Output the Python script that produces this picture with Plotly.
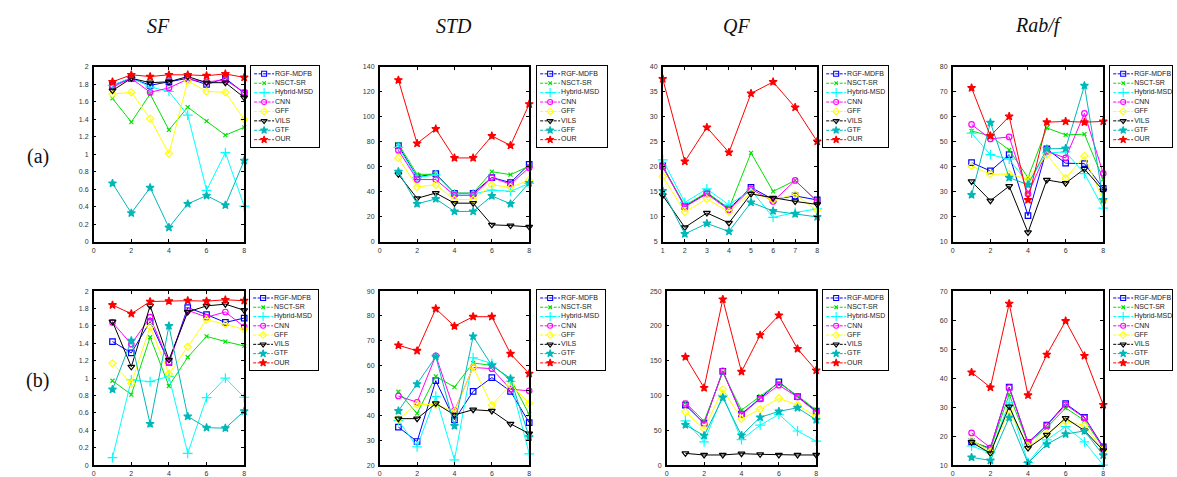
import plotly.graph_objects as go

# ---------------- data ----------------
X = [1, 2, 3, 4, 5, 6, 7, 8]
LABELS = ["RGF-MDFB", "NSCT-SR", "Hybrid-MSD", "CNN", "GFF", "VILS", "GTF", "OUR"]
LABELS_STD_A = ["RGF-MDFB", "NSCT-SR", "Hybrid-MSD", "CNN", "GFF", "VILS", "GFF", "OUR"]
TITLES = ["SF", "STD", "QF", "Rab/f"]
ROW_LABELS = ["(a)", "(b)"]

# rows follow LABELS order
SF_A = [
    [1.79, 1.87, 1.79, 1.83, 1.87, 1.80, 1.87, 1.70],
    [1.64, 1.37, 1.69, 1.28, 1.54, 1.38, 1.22, 1.31],
    [1.79, 1.88, 1.77, 1.72, 1.45, 0.59, 1.02, 0.41],
    [1.77, 1.87, 1.71, 1.76, 1.86, 1.83, 1.85, 1.71],
    [1.69, 1.71, 1.41, 1.01, 1.84, 1.72, 1.71, 1.40],
    [1.73, 1.87, 1.82, 1.83, 1.89, 1.82, 1.82, 1.65],
    [0.67, 0.33, 0.62, 0.165, 0.435, 0.53, 0.42, 0.93],
    [1.83, 1.91, 1.89, 1.91, 1.91, 1.90, 1.92, 1.88],
]
STD_A = [
    [77.0, 52.0, 54.6, 38.9, 38.9, 51.5, 47.5, 62.0],
    [78.3, 54.1, 54.1, 39.1, 39.1, 56.2, 53.8, 60.7],
    [75.6, 51.5, 53.6, 38.4, 38.4, 41.5, 40.5, 46.8],
    [73.3, 49.9, 49.9, 37.3, 37.3, 51.5, 46.2, 59.4],
    [67.2, 44.1, 45.7, 33.9, 33.9, 45.7, 43.6, 49.4],
    [54.1, 34.9, 39.1, 31.0, 31.0, 13.7, 13.1, 12.1],
    [56.2, 30.5, 34.4, 24.4, 24.4, 36.8, 30.5, 47.3],
    [129.5, 78.8, 90.4, 67.2, 67.2, 84.8, 77.2, 110.3],
]
QF_A = [
    [20.2, 12.1, 14.8, 11.6, 15.9, 13.5, 14.2, 13.4],
    [20.0, 12.3, 14.9, 11.7, 22.8, 15.1, 17.3, 13.1],
    [21.4, 12.9, 15.6, 12.4, 15.4, 9.9, 10.9, 11.6],
    [20.0, 12.0, 14.6, 11.4, 15.6, 13.1, 17.3, 13.1],
    [18.1, 11.0, 13.6, 11.0, 14.9, 13.4, 14.5, 11.3],
    [14.3, 7.9, 10.8, 8.8, 14.6, 13.8, 13.1, 12.5],
    [15.2, 6.6, 8.7, 7.1, 12.9, 11.2, 10.6, 10.0],
    [37.6, 21.1, 27.9, 22.9, 34.7, 37.0, 31.9, 25.1],
]
RAB_A = [
    [41.7, 38.4, 44.9, 20.5, 47.2, 41.5, 41.3, 31.4],
    [54.4, 52.4, 46.8, 35.7, 55.6, 52.8, 53.1, 35.0],
    [53.5, 44.9, 43.1, 33.4, 45.6, 46.0, 37.3, 23.5],
    [57.0, 51.2, 52.0, 29.2, 46.2, 43.6, 61.4, 37.4],
    [40.3, 37.1, 37.1, 35.1, 44.9, 35.5, 44.3, 26.5],
    [34.2, 26.5, 32.3, 13.8, 34.8, 33.5, 39.2, 30.5],
    [28.8, 57.7, 35.7, 32.9, 47.2, 47.4, 72.5, 26.8],
    [71.6, 52.4, 60.2, 26.8, 57.9, 58.2, 57.9, 58.2],
]
SF_B = [
    [1.42, 1.29, 1.65, 1.18, 1.81, 1.73, 1.64, 1.69],
    [0.97, 0.81, 1.47, 0.91, 1.24, 1.48, 1.42, 1.37],
    [0.087, 0.98, 0.96, 1.02, 0.136, 0.775, 1.00, 0.78],
    [1.64, 1.39, 1.70, 1.18, 1.78, 1.70, 1.76, 1.59],
    [1.17, 0.94, 1.59, 1.05, 1.36, 1.67, 1.62, 1.56],
    [1.65, 1.13, 1.83, 1.21, 1.76, 1.83, 1.85, 1.78],
    [0.87, 1.43, 0.475, 1.60, 0.56, 0.43, 0.425, 0.62],
    [1.84, 1.74, 1.88, 1.885, 1.89, 1.885, 1.90, 1.89],
]
STD_B = [
    [35.3, 29.5, 54.0, 38.2, 49.7, 55.2, 49.7, 37.1],
    [49.5, 40.8, 55.7, 51.4, 61.1, 60.1, 54.7, 40.4],
    [37.9, 27.4, 47.6, 22.1, 63.2, 60.9, 53.7, 24.5],
    [47.8, 45.3, 64.0, 41.9, 59.3, 58.8, 50.5, 49.9],
    [38.6, 44.5, 44.3, 41.6, 59.4, 44.1, 52.4, 44.9],
    [38.7, 38.7, 44.8, 40.2, 42.3, 41.8, 36.6, 32.7],
    [41.8, 52.6, 63.6, 35.8, 71.8, 60.1, 54.8, 31.3],
    [68.2, 66.0, 82.9, 75.9, 79.7, 79.7, 64.8, 56.8],
]
QF_B = [
    [86.2, 60.3, 134.7, 73.4, 96.0, 119.6, 98.4, 77.7],
    [89.9, 63.1, 133.2, 79.1, 98.9, 118.2, 99.8, 79.1],
    [63.6, 33.4, 100.3, 36.7, 57.4, 73.0, 49.0, 34.4],
    [88.5, 59.3, 135.6, 72.5, 95.1, 114.9, 97.9, 76.3],
    [76.3, 51.8, 108.8, 66.4, 80.5, 96.0, 86.2, 69.7],
    [16.9, 14.6, 14.6, 16.5, 15.5, 14.6, 14.6, 14.6],
    [57.9, 42.4, 97.0, 42.8, 68.7, 77.2, 82.4, 65.0],
    [155.4, 111.1, 238.2, 134.2, 186.9, 215.2, 167.1, 136.1],
]
RAB_B = [
    [18.0, 15.8, 36.9, 17.8, 23.8, 31.2, 26.5, 16.3],
    [18.4, 15.4, 34.4, 17.5, 22.9, 29.7, 25.4, 16.0],
    [16.6, 14.3, 31.5, 10.9, 18.7, 23.3, 18.0, 10.0],
    [21.1, 16.0, 36.7, 17.7, 23.6, 30.8, 26.3, 16.0],
    [18.6, 14.6, 28.5, 16.6, 20.8, 25.1, 23.7, 15.2],
    [17.9, 14.1, 30.2, 15.9, 20.4, 26.2, 21.9, 15.1],
    [12.7, 11.6, 26.4, 10.7, 17.2, 20.7, 21.8, 13.4],
    [42.0, 36.8, 65.7, 34.1, 48.1, 59.7, 47.7, 30.8],
]

# ---------------- styles ----------------
COLORS = ["#0000FF", "#00E000", "#00FFFF", "#FF00FF", "#FFFF00", "#000000", "#00B8B8", "#FF0000"]
SYMBOLS = ["square-open", "x-thin-open", "cross-thin-open", "circle-open",
           "diamond-open", "triangle-down-open", "star", "star"]
SIZES = [5.5, 4, 7, 5.5, 5.5, 6, 6, 6]

W, H = 1177, 477
TICKFONT = dict(family="Liberation Sans Narrow, Liberation Sans, Arial", size=7, color="#333333")
LEGFONT = dict(family="Liberation Sans Narrow, Liberation Sans, Arial", size=7, color="#222222")

ROW_Y = [(64, 242), (292, 469)]
panels = [
    dict(data=SF_A, labels=LABELS, xd=(92, 243), row=0, yr=(0, 2), ydt=0.2, xr=(0, 8), xdt=2, leg=(250, 63, 68, 82)),
    dict(data=STD_A, labels=LABELS_STD_A, xd=(379, 529), row=0, yr=(0, 140), ydt=20, xr=(0, 8), xdt=2, leg=(537, 63, 70, 82)),
    dict(data=QF_A, labels=LABELS, xd=(663, 818), row=0, yr=(5, 40), ydt=5, xr=(1, 8), xdt=1, leg=(824, 63, 65, 82)),
    dict(data=RAB_A, labels=LABELS, xd=(954, 1105), row=0, yr=(10, 80), ydt=10, xr=(0, 8), xdt=2, leg=(1112, 63, 62, 82)),
    dict(data=SF_B, labels=LABELS, xd=(92, 243), row=1, yr=(0, 2), ydt=0.2, xr=(0, 8), xdt=2, leg=(249, 291, 68, 81)),
    dict(data=STD_B, labels=LABELS, xd=(379, 529), row=1, yr=(20, 90), ydt=10, xr=(0, 8), xdt=2, leg=(537, 291, 68, 81)),
    dict(data=QF_B, labels=LABELS, xd=(667, 817), row=1, yr=(0, 250), ydt=50, xr=(0, 8), xdt=2, leg=(824, 291, 65, 81)),
    dict(data=RAB_B, labels=LABELS, xd=(954, 1105), row=1, yr=(10, 70), ydt=10, xr=(0, 8), xdt=2, leg=(1112, 291, 62, 81)),
]

fig = go.Figure()
layout = dict(width=W, height=H, margin=dict(l=0, r=0, t=0, b=0),
              paper_bgcolor="white", plot_bgcolor="white", showlegend=False)


def frange(a, b, s):
    out, v = [], a
    while v <= b + 1e-9:
        out.append(round(v, 6))
        v += s
    return out


n = len(panels)
for k, p in enumerate(panels, start=1):
    xa, ya = f"x{k}", f"y{k}"
    y0, y1 = ROW_Y[p["row"]]
    layout[f"xaxis{k}"] = dict(
        domain=[p["xd"][0] / W, p["xd"][1] / W], range=list(p["xr"]), anchor=ya,
        tickvals=frange(p["xr"][0], p["xr"][1], p["xdt"]), ticks="inside", ticklen=3,
        tickcolor="black", showline=True, linecolor="black", linewidth=1.5, mirror="ticks",
        showgrid=False, zeroline=False, tickfont=TICKFONT, ticklabelstandoff=1)
    layout[f"yaxis{k}"] = dict(
        domain=[1 - y1 / H, 1 - y0 / H], range=list(p["yr"]), anchor=xa,
        tickvals=frange(p["yr"][0], p["yr"][1], p["ydt"]), ticks="inside", ticklen=3,
        tickcolor="black", showline=True, linecolor="black", linewidth=1.5, mirror="ticks",
        showgrid=False, zeroline=False, tickfont=TICKFONT, ticklabelstandoff=2)
    for i, series in enumerate(p["data"]):
        fig.add_trace(go.Scatter(
            x=X, y=series, xaxis=xa, yaxis=ya, mode="lines+markers", cliponaxis=False,
            line=dict(color=COLORS[i], width=1),
            marker=dict(symbol=SYMBOLS[i], size=SIZES[i], color=COLORS[i],
                        line=dict(color=COLORS[i], width=1.2)),
            name=p["labels"][i], showlegend=False))

    # ---- legend box drawn on its own small axis ----
    L, T, Wl, Hl = p["leg"]
    j = k + n
    lx, ly = f"x{j}", f"y{j}"
    layout[f"xaxis{j}"] = dict(domain=[L / W, (L + Wl) / W], range=[0, Wl], anchor=ly,
                               showline=True, linecolor="black", linewidth=1.2, mirror=True,
                               showticklabels=False, ticks="", showgrid=False, zeroline=False, fixedrange=True)
    layout[f"yaxis{j}"] = dict(domain=[1 - (T + Hl) / H, 1 - T / H], range=[Hl, 0], anchor=lx,
                               showline=True, linecolor="black", linewidth=1.2, mirror=True,
                               showticklabels=False, ticks="", showgrid=False, zeroline=False, fixedrange=True)
    step = (Hl - 15) / 7.0
    for i, lab in enumerate(p["labels"]):
        yy = 8 + i * step
        fig.add_trace(go.Scatter(
            x=[3, 13, 23], y=[yy, yy, yy], xaxis=lx, yaxis=ly, mode="lines+markers",
            line=dict(color=COLORS[i], width=1, dash="3px,1.5px"),
            marker=dict(symbol=SYMBOLS[i], size=SIZES[i] - 0.5, color=COLORS[i], opacity=[0, 1, 0],
                        line=dict(color=COLORS[i], width=1.1)),
            showlegend=False, hoverinfo="skip"))
    fig.add_trace(go.Scatter(
        x=[24] * len(p["labels"]), y=[8 + i * step for i in range(len(p["labels"]))],
        text=p["labels"], mode="text", textposition="middle right", textfont=LEGFONT,
        xaxis=lx, yaxis=ly, showlegend=False, hoverinfo="skip", cliponaxis=False))

annotations = []
title_x = [157, 454, 737, 1040]
for t, xp in zip(TITLES, title_x):
    annotations.append(dict(text=f"<i>{t}</i>", x=xp / W, y=1 - 22 / H, xref="paper", yref="paper",
                            showarrow=False, xanchor="center", yanchor="middle",
                            font=dict(family="Liberation Serif, Times New Roman", size=20, color="#111111")))
for lab, yp in zip(ROW_LABELS, [155, 383]):
    annotations.append(dict(text=lab, x=36 / W, y=1 - yp / H, xref="paper", yref="paper",
                            showarrow=False, xanchor="center", yanchor="middle",
                            font=dict(family="Liberation Serif, Times New Roman", size=20, color="#111111")))
layout["annotations"] = annotations

fig.update_layout(**layout)
fig.write_html("out.html")
